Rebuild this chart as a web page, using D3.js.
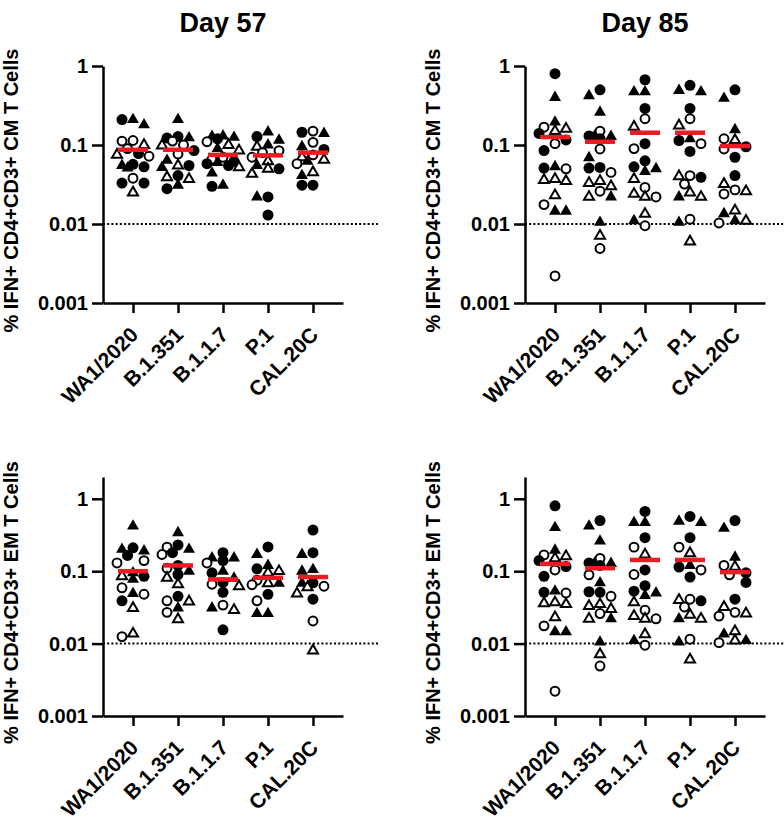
<!DOCTYPE html>
<html>
<head>
<meta charset="utf-8">
<script src="https://cdn.jsdelivr.net/npm/d3@7"></script>
<style>
  body { margin: 0; background: #fff; }
  svg { display: block; font-family: "Liberation Sans", Arial, sans-serif; font-weight: bold; }
</style>
</head>
<body>
<div id="container"></div>
<script>
// categories (variants) on the x axis
let categories = ["WA1/2020", "B.1.351", "B.1.1.7", "P.1", "CAL.20C"];
let yTicks = [0.001, 0.01, 0.1, 1];
let limitOfDetection = 0.01;

// points: [value, group]  fc = filled circle, oc = open circle,
// ft = filled triangle, ot = open triangle
let day57CM = [
  [[0.18,"ft"],[0.21,"ft"],[0.21,"fc"],[0.112,"oc"],[0.114,"oc"],[0.10,"ot"],[0.09,"oc"],[0.075,"ot"],[0.078,"fc"],[0.072,"oc"],[0.053,"fc"],[0.055,"ft"],[0.057,"fc"],[0.051,"ft"],[0.038,"oc"],[0.033,"fc"],[0.033,"fc"],[0.025,"ot"]],
  [[0.21,"ft"],[0.112,"oc"],[0.123,"fc"],[0.128,"fc"],[0.123,"ft"],[0.10,"oc"],[0.085,"fc"],[0.077,"oc"],[0.064,"ft"],[0.055,"ot"],[0.055,"fc"],[0.052,"ft"],[0.039,"ot"],[0.037,"ot"],[0.041,"fc"],[0.028,"fc"],[0.031,"ft"],[0.098,"ot"]],
  [[0.128,"ft"],[0.13,"ft"],[0.125,"ft"],[0.12,"fc"],[0.11,"oc"],[0.10,"ot"],[0.09,"ft"],[0.085,"ot"],[0.07,"oc"],[0.062,"fc"],[0.058,"fc"],[0.055,"fc"],[0.06,"ft"],[0.052,"ot"],[0.044,"ft"],[0.030,"fc"],[0.031,"ft"],[0.066,"oc"]],
  [[0.146,"ft"],[0.128,"fc"],[0.115,"ft"],[0.10,"ft"],[0.095,"ot"],[0.085,"oc"],[0.08,"oc"],[0.07,"oc"],[0.05,"fc"],[0.062,"ot"],[0.055,"ft"],[0.05,"ot"],[0.043,"ot"],[0.022,"fc"],[0.022,"ft"],[0.013,"fc"]],
  [[0.15,"oc"],[0.145,"fc"],[0.14,"ft"],[0.108,"oc"],[0.095,"ft"],[0.088,"fc"],[0.075,"oc"],[0.07,"ot"],[0.062,"ft"],[0.058,"oc"],[0.065,"ot"],[0.045,"ot"],[0.041,"ft"],[0.031,"fc"],[0.031,"fc"]]
];
let day57CMmedian = [0.087, 0.087, 0.075, 0.074, 0.080];

let day85CM = [
  [[0.8,"fc"],[0.4,"ft"],[0.16,"ot"],[0.168,"oc"],[0.195,"ft"],[0.15,"ot"],[0.116,"fc"],[0.14,"fc"],[0.104,"oc"],[0.085,"fc"],[0.05,"oc"],[0.053,"ft"],[0.051,"fc"],[0.035,"ot"],[0.037,"ot"],[0.036,"ot"],[0.023,"ot"],[0.0176,"oc"],[0.0145,"ft"],[0.0145,"ft"],[0.0022,"oc"]],
  [[0.42,"ft"],[0.5,"fc"],[0.26,"ft"],[0.15,"oc"],[0.128,"ft"],[0.13,"fc"],[0.128,"ft"],[0.12,"fc"],[0.089,"oc"],[0.069,"ft"],[0.051,"fc"],[0.052,"fc"],[0.045,"oc"],[0.035,"ot"],[0.033,"ot"],[0.030,"ot"],[0.026,"oc"],[0.022,"ot"],[0.022,"ft"],[0.0105,"ft"],[0.0071,"ot"],[0.0049,"oc"]],
  [[0.67,"fc"],[0.47,"ft"],[0.47,"ft"],[0.29,"fc"],[0.215,"oc"],[0.17,"ot"],[0.09,"oc"],[0.104,"fc"],[0.063,"fc"],[0.053,"fc"],[0.05,"ft"],[0.046,"ft"],[0.037,"ot"],[0.029,"oc"],[0.022,"oc"],[0.022,"ot"],[0.024,"ot"],[0.0134,"ot"],[0.0095,"oc"],[0.011,"ft"]],
  [[0.57,"fc"],[0.47,"ft"],[0.49,"ft"],[0.29,"fc"],[0.215,"oc"],[0.176,"ot"],[0.12,"ft"],[0.114,"fc"],[0.104,"oc"],[0.083,"fc"],[0.032,"oc"],[0.041,"oc"],[0.04,"ot"],[0.039,"fc"],[0.022,"ft"],[0.022,"ot"],[0.025,"ot"],[0.0105,"ft"],[0.0115,"oc"],[0.006,"ot"]],
  [[0.39,"ft"],[0.5,"fc"],[0.156,"ft"],[0.12,"oc"],[0.115,"ot"],[0.089,"oc"],[0.095,"fc"],[0.07,"fc"],[0.041,"fc"],[0.032,"ot"],[0.024,"oc"],[0.027,"oc"],[0.026,"ot"],[0.0148,"ot"],[0.0135,"ft"],[0.0103,"oc"],[0.011,"ft"],[0.011,"ot"]]
];
let day85CMmedian = [0.126, 0.11, 0.143, 0.143, 0.097];

let day57EM = [
  [[0.42,"ft"],[0.19,"ft"],[0.21,"fc"],[0.2,"ft"],[0.165,"fc"],[0.13,"oc"],[0.14,"oc"],[0.077,"ft"],[0.085,"ot"],[0.085,"fc"],[0.048,"oc"],[0.059,"oc"],[0.049,"ft"],[0.039,"fc"],[0.031,"ot"],[0.0125,"oc"],[0.0137,"ot"],[0.095,"ft"]],
  [[0.34,"ft"],[0.23,"fc"],[0.18,"fc"],[0.215,"oc"],[0.2,"ft"],[0.17,"oc"],[0.12,"fc"],[0.081,"ot"],[0.09,"fc"],[0.1,"ft"],[0.066,"ot"],[0.045,"fc"],[0.038,"ot"],[0.039,"oc"],[0.031,"ft"],[0.027,"oc"],[0.0216,"ot"],[0.11,"oc"]],
  [[0.18,"fc"],[0.152,"ft"],[0.152,"ft"],[0.14,"fc"],[0.13,"oc"],[0.1,"ft"],[0.095,"fc"],[0.062,"ot"],[0.08,"ft"],[0.066,"oc"],[0.051,"fc"],[0.029,"ot"],[0.034,"oc"],[0.031,"ft"],[0.0155,"fc"],[0.07,"fc"]],
  [[0.216,"fc"],[0.17,"ft"],[0.12,"ft"],[0.1,"ot"],[0.108,"fc"],[0.095,"ot"],[0.068,"ot"],[0.068,"ft"],[0.065,"oc"],[0.048,"fc"],[0.039,"oc"],[0.026,"ft"],[0.026,"ft"],[0.075,"oc"]],
  [[0.37,"fc"],[0.18,"fc"],[0.17,"ft"],[0.1,"ft"],[0.105,"ft"],[0.069,"fc"],[0.062,"oc"],[0.06,"ot"],[0.068,"ft"],[0.049,"ot"],[0.041,"fc"],[0.0205,"oc"],[0.008,"ot"]]
];
let day57EMmedian = [0.10, 0.12, 0.077, 0.081, 0.083];

// the Day 85 EM panel in the figure shows the same points as Day 85 CM
let day85EM = day85CM;
let day85EMmedian = day85CMmedian;

let w = 784;
let h = 822;
let viz = d3.select("#container")
  .append("svg")
    .attr("width", w)
    .attr("height", h)
;

let panels = [
  {data: day57CM, med: day57CMmedian, label: "% IFN+ CD4+CD3+ CM T Cells", x0: 103, top: 66, bottom: 303, ymax: 1, title: "Day 57"},
  {data: day85CM, med: day85CMmedian, label: "% IFN+ CD4+CD3+ CM T Cells", x0: 525, top: 66, bottom: 303, ymax: 1, title: "Day 85"},
  {data: day57EM, med: day57EMmedian, label: "% IFN+ CD4+CD3+ EM T Cells", x0: 103, top: 477, bottom: 716, ymax: 2},
  {data: day85EM, med: day85EMmedian, label: "% IFN+ CD4+CD3+ EM T Cells", x0: 525, top: 477, bottom: 716, ymax: 2}
];

let circle = d3.symbol().type(d3.symbolCircle);
let triangle = d3.symbol().type(d3.symbolTriangle);

// sideways slots tried for each point, closest to the centre first
let slots = [0, -11, 11, -5.5, 5.5, -16, 16];

panels.forEach(drawPanel);

function drawPanel(p){
  let g = viz.append("g");
  let x1 = p.x0 + 240;

  let xScale = d3.scalePoint().domain(categories).range([p.x0, x1]).padding(0.667);
  let yScale = d3.scaleLog().domain([0.001, p.ymax]).range([p.bottom, p.top]);

  // dotted limit line
  g.append("line")
    .attr("x1", p.x0).attr("x2", x1 + 36)
    .attr("y1", yScale(limitOfDetection)).attr("y2", yScale(limitOfDetection))
    .attr("stroke", "black")
    .attr("stroke-width", 2)
    .attr("stroke-dasharray", "2,2.2")
  ;

  let yAxis = d3.axisLeft(yScale).tickValues(yTicks).tickFormat(d => String(d))
    .tickSize(11).tickPadding(4).tickSizeOuter(0);
  let yAxisGroup = g.append("g")
    .attr("transform", "translate(" + p.x0 + ",0)")
    .call(yAxis);
  styleAxis(yAxisGroup);

  let xAxis = d3.axisBottom(xScale).tickSize(10).tickSizeOuter(0);
  let xAxisGroup = g.append("g")
    .attr("transform", "translate(0," + p.bottom + ")")
    .call(xAxis);
  styleAxis(xAxisGroup);
  xAxisGroup.selectAll("text")
    .attr("font-size", 21)
    .attr("y", 0)
    .attr("dy", 0)
    .attr("text-anchor", "end")
    .attr("transform", "translate(6,33) rotate(-45)")
  ;

  // y label
  g.append("text")
    .attr("transform", "translate(" + (p.x0 - 85) + "," + ((p.top + p.bottom) / 2 + 6) + ") rotate(-90)")
    .attr("text-anchor", "middle")
    .attr("font-size", 20)
    .text(p.label);

  if (p.title){
    g.append("text")
      .attr("x", (p.x0 + x1) / 2)
      .attr("y", 32)
      .attr("text-anchor", "middle")
      .attr("font-size", 27)
      .text(p.title);
  }

  // points, spread sideways within a narrow column; overlaps allowed when crowded
  p.data.forEach(function(points, ci){
    let cx = xScale(categories[ci]);
    let pts = points.map(function(d, i){
      return {v: d[0], g: d[1], i: i, py: yScale(d[0])};
    }).sort((a, b) => a.py - b.py);
    let placed = [];
    pts.forEach(function(d){
      let best = 0, bestGap = -1;
      for (let s of slots){
        let gap = d3.min(placed, q => Math.hypot(q.px - (cx + s), q.py - d.py));
        if (gap === undefined) gap = 99;
        if (gap >= 9.5){ best = s; bestGap = gap; break; }
        if (gap > bestGap){ best = s; bestGap = gap; }
      }
      d.px = cx + best;
      placed.push(d);
    });

    g.selectAll(".pt" + ci).data(pts).enter()
      .append("path")
      .attr("class", "pt" + ci)
      .attr("transform", d => "translate(" + d.px + "," + d.py + ")")
      .attr("d", function(d){
        if (d.g == "fc") return circle.size(95)();
        if (d.g == "oc") return circle.size(62)();
        if (d.g == "ft") return triangle.size(62)();
        return triangle.size(44)();
      })
      .attr("fill", d => (d.g == "fc" || d.g == "ft") ? "black" : "white")
      .attr("stroke", "black")
      .attr("stroke-width", d => (d.g == "fc" || d.g == "ft") ? 0 : 2)
    ;
  });

  // medians
  g.selectAll(".median").data(p.med).enter()
    .append("line")
    .attr("class", "median")
    .attr("x1", (d, i) => xScale(categories[i]) - 15)
    .attr("x2", (d, i) => xScale(categories[i]) + 15)
    .attr("y1", d => yScale(d))
    .attr("y2", d => yScale(d))
    .attr("stroke", "#ed1c24")
    .attr("stroke-width", 4.5)
  ;
}

function styleAxis(sel){
  sel.attr("font-family", null).attr("font-size", 20).attr("font-weight", "bold");
  sel.selectAll("path, line").attr("stroke", "black").attr("stroke-width", 2.5);
  sel.selectAll("text").attr("fill", "black");
}
</script>
</body>
</html>
